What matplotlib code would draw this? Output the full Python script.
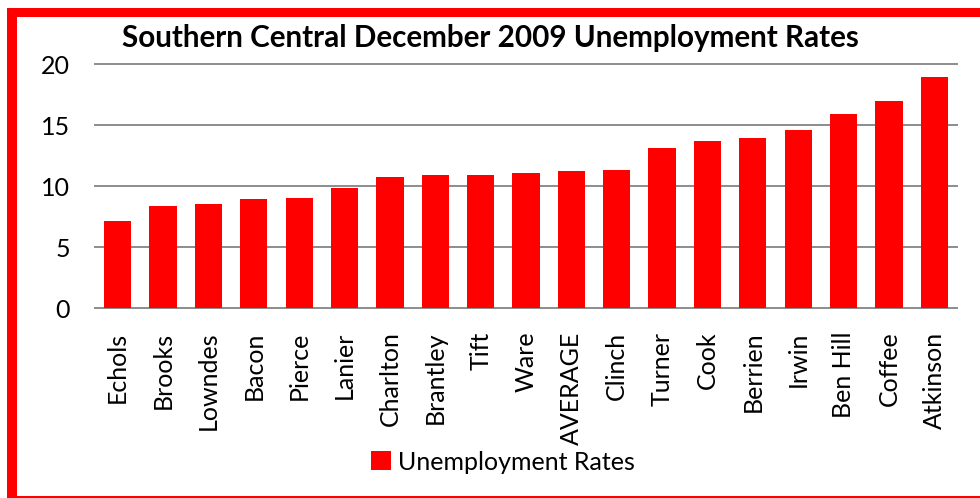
import matplotlib.pyplot as plt
from matplotlib.patches import Rectangle

counties = ["Echols", "Brooks", "Lowndes", "Bacon", "Pierce", "Lanier", "Charlton",
            "Brantley", "Tift", "Ware", "AVERAGE", "Clinch", "Turner", "Cook",
            "Berrien", "Irwin", "Ben Hill", "Coffee", "Atkinson"]
rates = [7.1, 8.4, 8.5, 8.9, 9.0, 9.8, 10.7, 10.9, 10.9, 11.1, 11.2, 11.3,
         13.1, 13.7, 13.9, 14.6, 15.9, 17.0, 18.9]
yticks = [0, 5, 10, 15, 20]

plt.rcParams['font.family'] = ['Lato', 'DejaVu Sans']

W, H = 980, 498
fig = plt.figure(figsize=(W / 100, H / 100), dpi=100)
ax = fig.add_axes([95 / W, 1 - 308 / H, 862 / W, 244 / H])

ax.bar(range(len(counties)), rates, width=0.6, color="#ff0000",
       label="Unemployment Rates", zorder=3)

ax.set_xlim(-0.5, len(counties) - 0.5)
ax.set_ylim(0, 20)
ax.set_yticks(yticks)
ax.set_yticklabels([str(v) for v in yticks], fontsize=18)
ax.set_xticks(range(len(counties)))
ax.set_xticklabels(counties, rotation=90, fontsize=18, va="top")
ax.tick_params(axis="both", length=0)
ax.tick_params(axis="x", pad=17)
ax.tick_params(axis="y", pad=18)
ax.grid(axis="y", color="#8c8c8c", linewidth=1.4, zorder=0)
ax.set_axisbelow(True)
for s in ax.spines.values():
    s.set_visible(False)
for gl in ax.get_ygridlines():
    gl.set_clip_on(False)

fig.text(490 / W, 1 - 38 / H, "Southern Central December 2009 Unemployment Rates",
         ha="center", va="center", fontsize=21.3, fontweight="bold")

fig.legend(loc="center", bbox_to_anchor=(503 / W, 1 - 462 / H), frameon=False,
           fontsize=18, handlelength=0.8, handleheight=0.8, handletextpad=0.3)

# red frame: left, top and bottom strips (pixel boxes x0, y0, x1, y1 from top-left)
frame = [(7, 8, 17, 498), (7, 8, 980, 17), (7, 496, 980, 498)]
for x0, y0, x1, y1 in frame:
    fig.patches.append(Rectangle((x0 / W, 1 - y1 / H), (x1 - x0) / W, (y1 - y0) / H,
                                 transform=fig.transFigure, color="#ff0000",
                                 linewidth=0, zorder=10))

fig.savefig("out.png", dpi=100)
